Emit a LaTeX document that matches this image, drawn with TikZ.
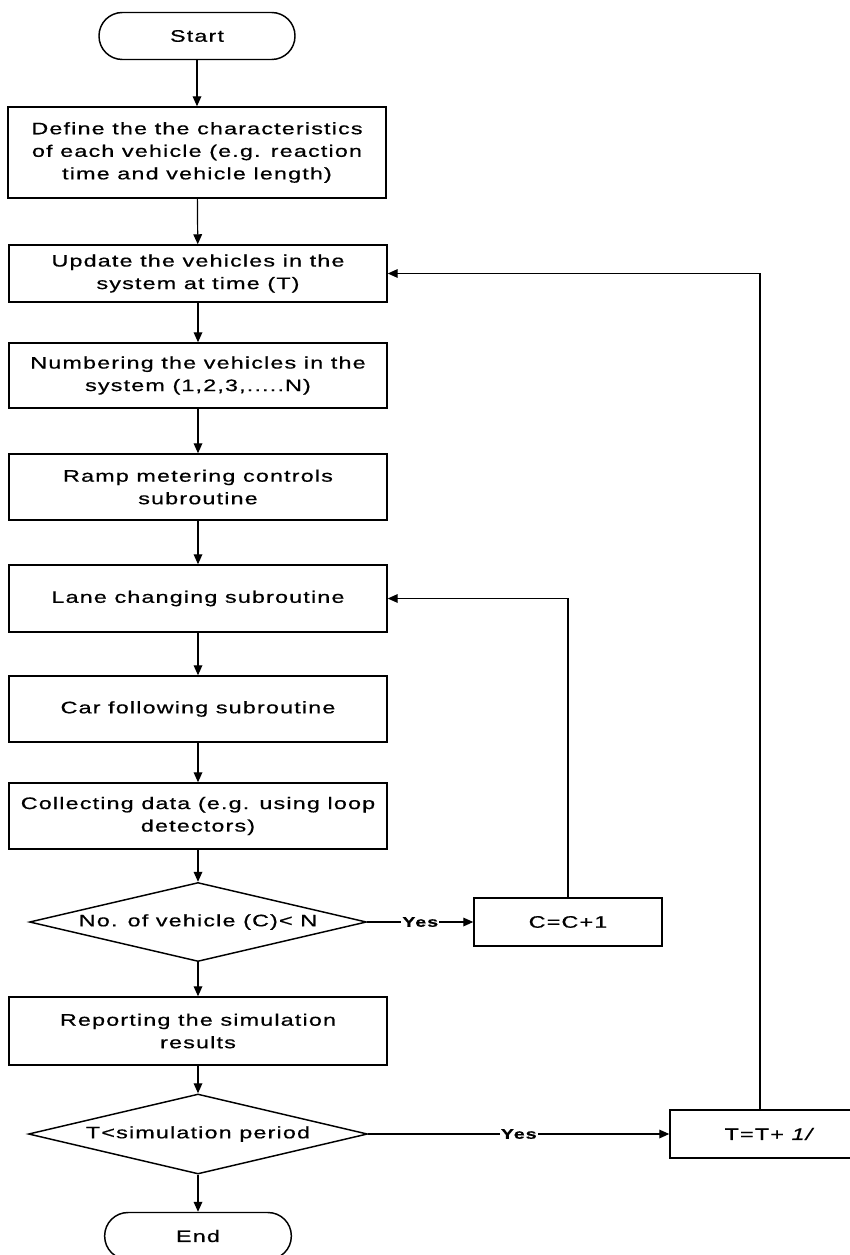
\documentclass[tikz,border=0pt]{standalone}
\usepackage{fontspec}
\setmainfont{Liberation Sans}[FakeStretch=1.4, LetterSpace=7, FakeBold=0.6]
\usetikzlibrary{arrows.meta, shapes.geometric}

\begin{document}
\begin{tikzpicture}[x=0.75pt, y=-0.75pt, >={Triangle[length=7.5pt, width=6.5pt]},
  every node/.style={font=\fontsize{12.5pt}{16.9pt}\selectfont},
  box/.style={draw, line width=1.1pt, minimum width=283.5pt, align=center, inner sep=0pt},
  term/.style={draw, line width=1.1pt, minimum width=147pt, minimum height=35.25pt, rounded corners=17.5pt},
  check/.style={draw, diamond, line width=1.1pt, minimum width=252.75pt, minimum height=59.25pt, inner sep=0pt, aspect=4.3},
  yes/.style={fill=white, inner sep=1pt, font=\fontsize{10.5pt}{12pt}\selectfont\bfseries},
  flow/.style={->, line width=0.9pt}]
  \useasboundingbox (0,0) rectangle (849,1255);

  \node[term] (start) at (197,36) {Start};
  \node[box, minimum height=68.25pt] (define) at (197,152.5) {Define the the characteristics\\of each vehicle (e.g. reaction\\time and vehicle length)};
  \node[box, minimum height=42.75pt] (update) at (198,273.5) {Update the vehicles in the\\system at time (T)};
  \node[box, minimum height=48.75pt] (number) at (198,375.5) {Numbering the vehicles in the\\system (1,2,3,.....N)};
  \node[box, minimum height=49.5pt] (ramp) at (198,487) {Ramp metering controls\\subroutine};
  \node[box, minimum height=50.25pt] (lane) at (198,598.5) {Lane changing subroutine};
  \node[box, minimum height=49.5pt] (car) at (198,709) {Car following subroutine};
  \node[box, minimum height=49.5pt] (collect) at (198,816) {Collecting data (e.g. using loop\\detectors)};
  \node[check] (vehcheck) at (198,922) {No. of vehicle (C)< N};
  \node[box, minimum width=141pt, minimum height=36pt] (cinc) at (568,922) {C=C+1};
  \node[box, minimum height=51pt] (report) at (198,1031) {Reporting the simulation\\results};
  \node[check, minimum width=254.25pt, minimum height=60pt] (timecheck) at (198,1134) {T<simulation period};
  \node[box, minimum width=150pt, minimum height=36pt] (tinc) at (770,1134) {T=T+ \textit{1/}};
  \node[term, minimum width=140pt] (end) at (198,1236) {End};

  \foreach \a/\b in {start/define, define/update, update/number, number/ramp, ramp/lane,
    lane/car, car/collect, collect/vehcheck, vehcheck/report, report/timecheck, timecheck/end}
    \draw[flow] (\a) -- (\b);

  \draw[flow] (vehcheck) -- node[yes] {Yes} (cinc);
  \draw[flow] (cinc) |- (lane);
  \draw[flow] (timecheck) -- node[yes] {Yes} (tinc);
  \draw[flow] ([xshift=-7.5pt]tinc.north) |- (update.east);
\end{tikzpicture}
\end{document}
